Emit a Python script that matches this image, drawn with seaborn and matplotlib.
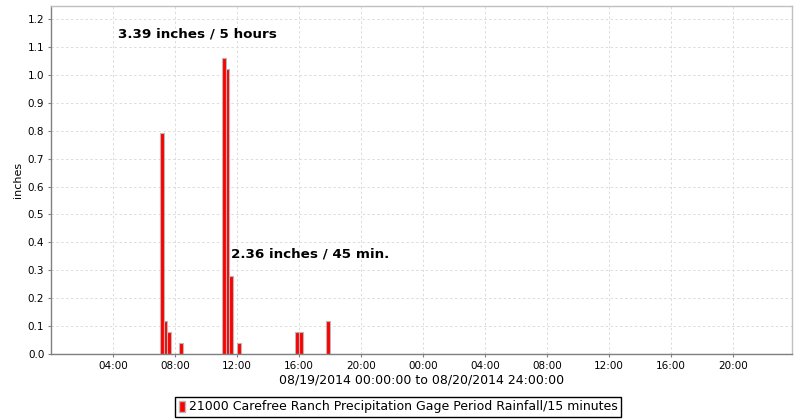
import matplotlib
matplotlib.use("Agg")
import matplotlib.pyplot as plt
import seaborn as sns
from matplotlib.patches import Patch

# 15-minute rainfall periods, hours from 08/19/2014 00:00
period_start = [7.0, 7.25, 7.5, 8.25, 11.0, 11.25, 11.5, 12.0, 15.75, 16.0, 17.75]
rain_in = [0.79, 0.12, 0.08, 0.04, 1.06, 1.02, 0.28, 0.04, 0.08, 0.08, 0.12]

tick_hours = [4, 8, 12, 16, 20, 24, 28, 32, 36, 40, 44]
tick_labels = ["04:00", "08:00", "12:00", "16:00", "20:00", "00:00",
               "04:00", "08:00", "12:00", "16:00", "20:00"]
y_ticks = [0.0, 0.1, 0.2, 0.3, 0.4, 0.5, 0.6, 0.7, 0.8, 0.9, 1.0, 1.1, 1.2]

sns.set_style("white")
plt.rcParams['font.family'] = ['DejaVu Sans']
plt.rcParams['text.color'] = 'black'
plt.rcParams['axes.labelcolor'] = 'black'
plt.rcParams['xtick.labelcolor'] = 'black'
plt.rcParams['ytick.labelcolor'] = 'black'

fig = plt.figure(figsize=(8, 4.2), dpi=100)
ax = fig.add_axes([0.064, 0.157, 0.926, 0.829])

sns.histplot(x=period_start, weights=rain_in, binwidth=0.25, binrange=(0, 48),
             color="#ff0000", edgecolor="#b8b8b8", linewidth=0.8, alpha=1,
             ax=ax)

ax.set_xlim(0, 47.8)
ax.set_ylim(0, 1.247)
ax.set_xticks(tick_hours)
ax.set_xticklabels(tick_labels)
ax.set_yticks(y_ticks)
ax.set_yticklabels([f"{v:.1f}" for v in y_ticks])
ax.tick_params(axis='both', labelsize=7.5, length=2, color="#808080", pad=3,
               direction='out')
ax.xaxis.set_ticks_position('bottom')
ax.yaxis.set_ticks_position('left')

ax.grid(True, color="#dcdcdc", linestyle=(0, (2.5, 2.5)), linewidth=0.7)
ax.set_axisbelow(True)
for s in ['top', 'right']:
    ax.spines[s].set_color("#c0c0c0")
for s in ['left', 'bottom']:
    ax.spines[s].set_color("#808080")
for s in ax.spines.values():
    s.set_linewidth(1)

ax.set_xlabel("08/19/2014 00:00:00 to 08/20/2014 24:00:00", fontsize=9, labelpad=2)
ax.set_ylabel("inches", fontsize=8, labelpad=3)

ax.text(4.3, 1.147, "3.39 inches / 5 hours", fontsize=9.7, fontweight='bold', va='center')
ax.text(11.6, 0.358, "2.36 inches / 45 min.", fontsize=9.7, fontweight='bold', va='center')

handle = Patch(facecolor="#ff0000", edgecolor="#b8b8b8")
fig.legend([handle], ["21000 Carefree Ranch Precipitation Gage Period Rainfall/15 minutes"],
           loc='center', bbox_to_anchor=(0.4975, 0.031), fontsize=9, frameon=True,
           fancybox=False, edgecolor="black", framealpha=1, handlelength=0.5,
           handleheight=1.0, handletextpad=0.3, borderpad=0.3, borderaxespad=0)

plt.savefig("out.png", dpi=100)
plt.close(fig)
